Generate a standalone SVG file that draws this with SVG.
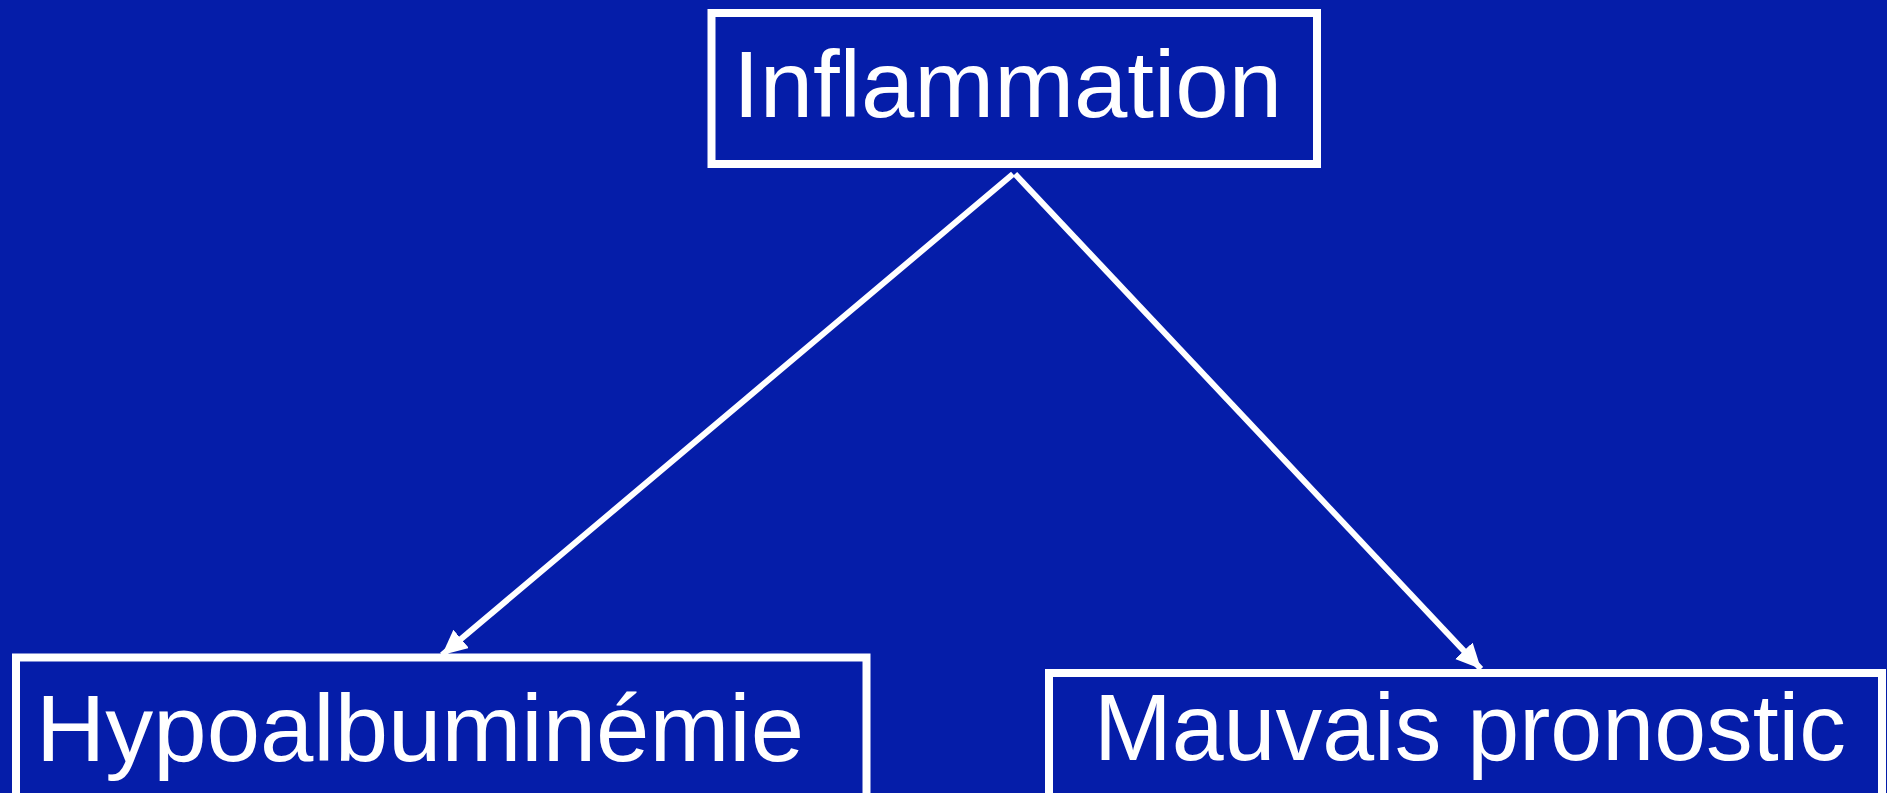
<svg xmlns="http://www.w3.org/2000/svg" width="1887" height="793" viewBox="0 0 1887 793">
  <style>
    .box { fill: none; stroke: #ffffff; stroke-width: 8; }
    .label { font-family: "Liberation Sans", Arial, sans-serif; font-size: 95px; fill: #ffffff; }
    .link { stroke: #ffffff; stroke-width: 6; fill: none; }
  </style>
  <defs>
    <marker id="arrow" markerUnits="userSpaceOnUse" markerWidth="28" markerHeight="26" refX="25" refY="12" orient="auto">
      <path d="M0,0 L25,12 L0,24 z" fill="#ffffff"/>
    </marker>
  </defs>
  <rect x="0" y="0" width="1887" height="793" fill="#051DA9"/>

  <g id="connectors">
    <line class="link" x1="1013" y1="174" x2="442" y2="655" marker-end="url(#arrow)"/>
    <line class="link" x1="1015" y1="174" x2="1481" y2="669" marker-end="url(#arrow)"/>
  </g>

  <g id="inflammation">
    <rect class="box" x="711.5" y="13" width="605.5" height="151"/>
    <text class="label" x="733" y="117" textLength="549" lengthAdjust="spacingAndGlyphs">Inflammation</text>
  </g>

  <g id="hypoalbuminemie">
    <rect class="box" x="16" y="657.5" width="850.5" height="150"/>
    <text class="label" x="36" y="761" textLength="768" lengthAdjust="spacingAndGlyphs">Hypoalbuminémie</text>
  </g>

  <g id="mauvais-pronostic">
    <rect class="box" x="1049" y="673" width="833" height="140"/>
    <text class="label" x="1094" y="760" textLength="752" lengthAdjust="spacingAndGlyphs">Mauvais pronostic</text>
  </g>
</svg>
